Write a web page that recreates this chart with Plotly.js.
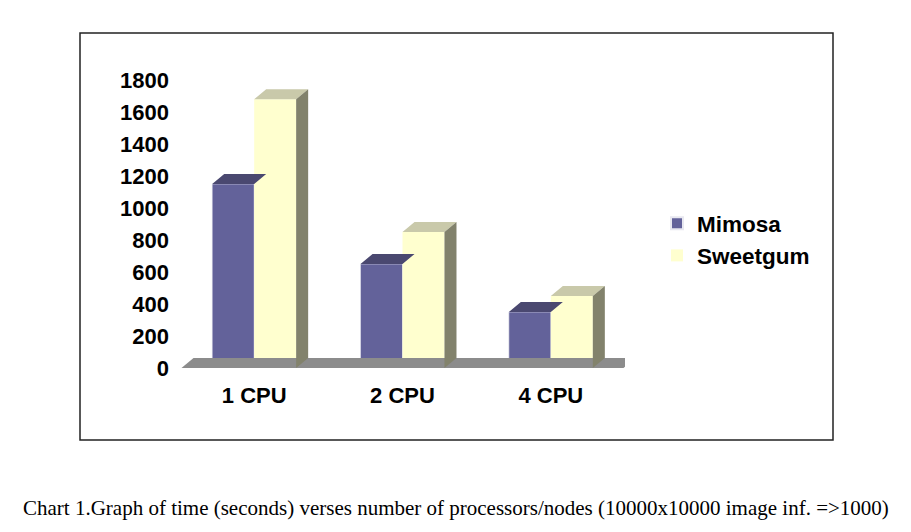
<!DOCTYPE html>
<html>
<head>
<meta charset="utf-8">
<script src="https://cdn.plot.ly/plotly-3.0.1.min.js"></script>
<style>
html,body{margin:0;padding:0;background:#fff;}
#chart{width:911px;height:532px;}
</style>
</head>
<body>
<div id="chart"></div>
<script>
// ---- data ----
const categories = ['1 CPU', '2 CPU', '4 CPU'];
const mimosa = [1150, 650, 350];
const sweetgum = [1680, 850, 450];
const yTicks = [0, 200, 400, 600, 800, 1000, 1200, 1400, 1600, 1800];
const seriesNames = ['Mimosa', 'Sweetgum'];
const caption = 'Chart 1.Graph of time (seconds) verses number of processors/nodes (10000x10000 image inf. =>1000)';

// ---- styling / geometry ----
const xs = categories.map((c, i) => i);
const bargap = 0.434;
const bw = (1 - bargap) / 2;      // width of one bar in axis units
const DX = 0.081;                  // 3D depth offset (x units)
const DY = 62;                     // 3D depth offset (y units)
const floorHalf = 0.49;

function capPolys(vals, offset) {
  const X = [], Y = [];
  vals.forEach((v, i) => {
    const x0 = xs[i] + offset, x1 = x0 + bw;
    X.push(x0, x1, x1 + DX, x0 + DX, x0, null);
    Y.push(v, v, v + DY, v + DY, v, null);
  });
  return {X, Y};
}
function sidePolys(vals, offset) {
  const X = [], Y = [];
  vals.forEach((v, i) => {
    const x1 = xs[i] + offset + bw;
    X.push(x1, x1 + DX, x1 + DX, x1, x1, null);
    Y.push(0, DY, v + DY, v, 0, null);
  });
  return {X, Y};
}

const xFirst = xs[0] - floorHalf, xLast = xs[xs.length - 1] + floorHalf;
const floorTrace = {
  type: 'scatter', mode: 'lines', fill: 'toself',
  x: [xFirst, xLast, xLast + DX, xFirst + DX, xFirst],
  y: [0, 0, DY, DY, 0],
  fillcolor: '#8c8c8c', line: {width: 0, color: '#8c8c8c'},
  showlegend: false, hoverinfo: 'skip', cliponaxis: false
};
const mCap = capPolys(mimosa, -bw);
const sCap = capPolys(sweetgum, 0);
const sSide = sidePolys(sweetgum, 0);

const capM = {type: 'scatter', mode: 'lines', fill: 'toself', x: mCap.X, y: mCap.Y,
  fillcolor: '#4a4870', line: {width: 0, color: '#4a4870'}, showlegend: false, hoverinfo: 'skip', cliponaxis: false};
const capS = {type: 'scatter', mode: 'lines', fill: 'toself', x: sCap.X, y: sCap.Y,
  fillcolor: '#c9c9aa', line: {width: 0, color: '#c9c9aa'}, showlegend: false, hoverinfo: 'skip', cliponaxis: false};
const sideS = {type: 'scatter', mode: 'lines', fill: 'toself', x: sSide.X, y: sSide.Y,
  fillcolor: '#82826c', line: {width: 0, color: '#82826c'}, showlegend: false, hoverinfo: 'skip', cliponaxis: false};

const barM = {type: 'bar', name: seriesNames[0], x: xs, y: mimosa,
  marker: {color: '#63629a', line: {width: 0.6, color: '#e8e8f0'}}, cliponaxis: false};
const barS = {type: 'bar', name: seriesNames[1], x: xs, y: sweetgum,
  marker: {color: '#ffffcf', line: {width: 0, color: '#ffffcf'}}, cliponaxis: false};

const boldFont = {family: 'Liberation Sans, Arial, sans-serif', size: 22, color: '#000', weight: 'bold'};
const legendFont = {family: 'Liberation Sans, Arial, sans-serif', size: 22.5, color: '#000', weight: 'bold'};

const L = 180, R = 625, T = 80, B = 368;
const pw = R - L, ph = B - T;
const px = p => (p - L) / pw;
const py = p => (B - p) / ph;

const layout = {
  width: 911, height: 532,
  margin: {l: L, r: 911 - R, t: T, b: 532 - B, pad: 0},
  paper_bgcolor: '#fff', plot_bgcolor: '#fff',
  barmode: 'group', bargap: bargap, bargroupgap: 0,
  showlegend: true,
  legend: {x: px(657), y: py(202), xanchor: 'left', yanchor: 'top', font: legendFont,
    bgcolor: 'rgba(0,0,0,0)', tracegroupgap: 0, itemsizing: 'constant'},
  xaxis: {range: [-0.5, 2.5], tickvals: xs, ticktext: categories, showgrid: false, zeroline: false,
    showline: false, ticks: '', tickfont: boldFont, ticklabelstandoff: 12, fixedrange: true},
  yaxis: {range: [0, 1800], tickvals: yTicks, ticktext: yTicks.map(String), showgrid: false,
    zeroline: false, showline: false, ticks: '', tickfont: boldFont, ticklabelstandoff: 10, fixedrange: true},
  shapes: [{type: 'rect', xref: 'paper', yref: 'paper', x0: px(80), x1: px(833), y0: py(440), y1: py(33),
    line: {color: '#222', width: 1.5}, fillcolor: 'rgba(0,0,0,0)', layer: 'below'}],
  annotations: [{xref: 'paper', yref: 'paper', x: px(456), y: py(508), xanchor: 'center', yanchor: 'middle',
    text: caption, showarrow: false, font: {family: 'Liberation Serif, Times New Roman, serif', size: 21, color: '#000'}}]
};

Plotly.newPlot('chart', [floorTrace, capM, capS, sideS, barM, barS], layout, {displayModeBar: false, staticPlot: true});
</script>
</body>
</html>
